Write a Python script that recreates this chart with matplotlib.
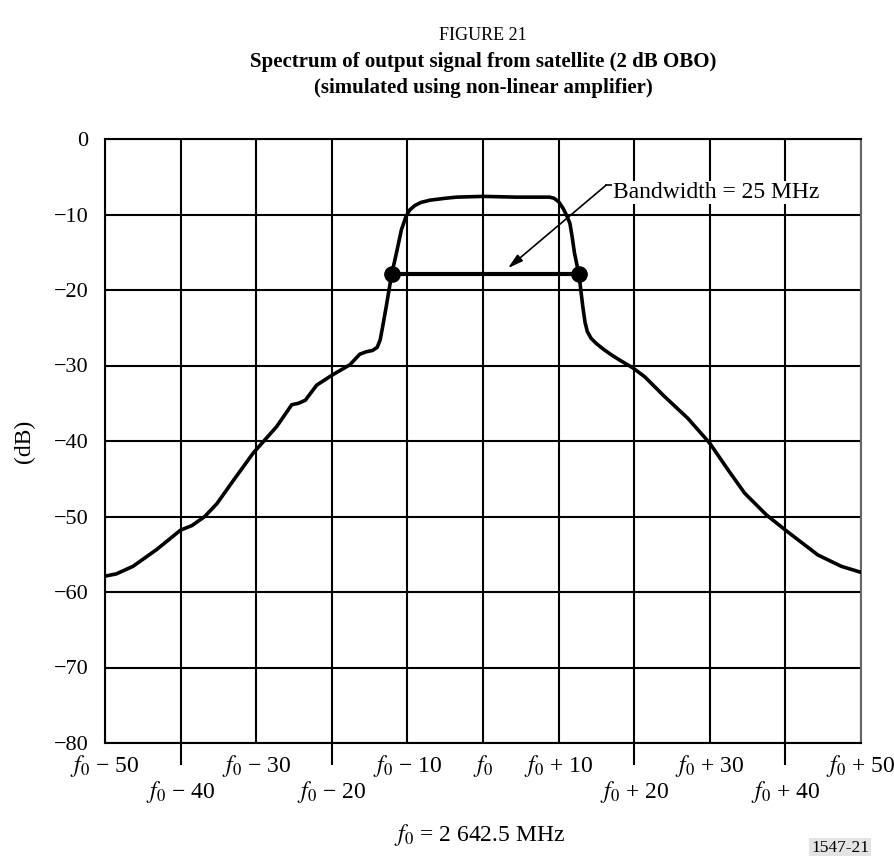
import matplotlib
matplotlib.use("Agg")
import matplotlib.pyplot as plt
from matplotlib.ticker import FixedLocator, FixedFormatter

plt.rcParams['font.family'] = ['Liberation Serif', 'DejaVu Serif']
plt.rcParams['mathtext.fontset'] = 'stix'

# Spectrum data (offset from f0 in MHz, level in dB)
freq = [-50, -48.5, -46.3, -43.2, -40, -38.5, -36.8, -35.2, -33, -30.4, -27.3, -25.3,
        -24.4, -23.5, -22.0, -20, -17.6, -16.3, -15.5, -14.6, -14.0, -13.6, -13.3,
        -12.8, -12.1, -11.45, -10.8, -10.2, -9.7, -9.0, -8.2, -7.0, -5.0, -3.5, 0,
        4.4, 8.8, 9.4, 10.0, 10.6, 11.1, 11.5, 11.8, 12.1, 12.7, 13.2, 13.5, 13.8,
        14.3, 15.0, 16.0, 17.0, 18.1, 19.8, 21.4, 24.0, 27.1, 30.0, 32.4, 34.6, 37.5,
        40.0, 44.3, 47.4, 50]
level = [-57.9, -57.6, -56.6, -54.4, -51.8, -51.2, -50.0, -48.3, -45.2, -41.6, -38.1, -35.2,
         -35.0, -34.6, -32.6, -31.3, -29.9, -28.5, -28.2, -28.0, -27.6, -26.6, -25.0,
         -22.2, -18.0, -15.1, -12.05, -10.3, -9.4, -8.8, -8.4, -8.1, -7.85, -7.7, -7.6,
         -7.7, -7.7, -7.85, -8.3, -9.2, -10.2, -11.2, -13.0, -15.1, -18.0, -22.2, -24.3, -25.5,
         -26.4, -27.1, -27.9, -28.6, -29.3, -30.3, -31.5, -34.1, -37.0, -40.3, -43.8, -46.9, -49.8,
         -51.8, -55.1, -56.6, -57.4]

# Bandwidth marker
bw_freq = [-12.1, 12.7]
bw_level = [-17.9, -17.9]
bw_label = "Bandwidth = 25 MHz"

upper_ticks = [-50, -30, -10, 0, 10, 30, 50]
upper_labels = [r"$f_0$ − 50", r"$f_0$ − 30", r"$f_0$ − 10", r"$f_0$",
                r"$f_0$ + 10", r"$f_0$ + 30", r"$f_0$ + 50"]
lower_ticks = [-40, -20, 20, 40]
lower_labels = [r"$f_0$ − 40", r"$f_0$ − 20", r"$f_0$ + 20", r"$f_0$ + 40"]
y_ticks = [0, -10, -20, -30, -40, -50, -60, -70, -80]
y_labels = ["0", "−10", "−20", "−30", "−40", "−50", "−60", "−70", "−80"]

fig = plt.figure(figsize=(8.95, 8.56), dpi=100)
ax = fig.add_axes([105/895, 1-743/856, (861-105)/895, (743-139)/856])

ax.set_xlim(-50, 50)
ax.set_ylim(-80, 0)

ax.xaxis.set_major_locator(FixedLocator(upper_ticks))
ax.xaxis.set_major_formatter(FixedFormatter(upper_labels))
ax.xaxis.set_minor_locator(FixedLocator(lower_ticks))
ax.xaxis.set_minor_formatter(FixedFormatter(lower_labels))
ax.set_yticks(y_ticks)
ax.set_yticklabels(y_labels)

ax.tick_params(axis='x', which='major', length=0, pad=7, labelsize=17)
ax.tick_params(axis='x', which='minor', length=16, width=1.5, direction='out',
               pad=10, labelsize=17)
ax.tick_params(axis='y', length=0, pad=12, labelsize=16)

ax.grid(True, which='both', color='black', linewidth=1.5)
ax.set_axisbelow(True)
for name, sp in ax.spines.items():
    sp.set_linewidth(1.5)
ax.spines['right'].set_color('#666666')

ax.plot(freq, level, color='black', linewidth=2.6, solid_joinstyle='round',
        solid_capstyle='round', zorder=3)
ax.plot(bw_freq, bw_level, color='black', linewidth=3, marker='o',
        markersize=11, zorder=4)

ax.annotate("", xy=(3.3, -17.1), xytext=(16.3, -6.1),
            arrowprops=dict(arrowstyle='-|>,head_length=0.9,head_width=0.25',
                            color='black', lw=1.2, shrinkA=0, shrinkB=0), zorder=5)
ax.plot([16.3, 17.1], [-6.1, -6.1], color='black', lw=1.2, zorder=5)
ax.text(17.2, -7.8, bw_label, fontsize=17, va='baseline', ha='left', zorder=6,
        bbox=dict(facecolor='white', edgecolor='none', pad=0.5))

ax.set_ylabel("(dB)", fontsize=17)
ax.yaxis.set_label_coords(-0.093, 0.5)

fig.text(483/895, 1-35/856, "FIGURE 21", ha='center', va='center', fontsize=13)
fig.text(483/895, 1-62/856, "Spectrum of output signal from satellite (2 dB OBO)",
         ha='center', va='center', fontsize=15, fontweight='bold')
fig.text(483/895, 1-88/856, "(simulated using non-linear amplifier)",
         ha='center', va='center', fontsize=15, fontweight='bold')
fig.text(480/895, 1-835/856, r"$f_0$ = 2 642.5 MHz", ha='center', va='center', fontsize=17)
fig.text(840/895, 1-848/856, "1547-21", ha='center', va='center', fontsize=12.5,
         bbox=dict(facecolor='#e4e4e4', edgecolor='none', pad=1.5))

fig.savefig("out.png", dpi=100)
